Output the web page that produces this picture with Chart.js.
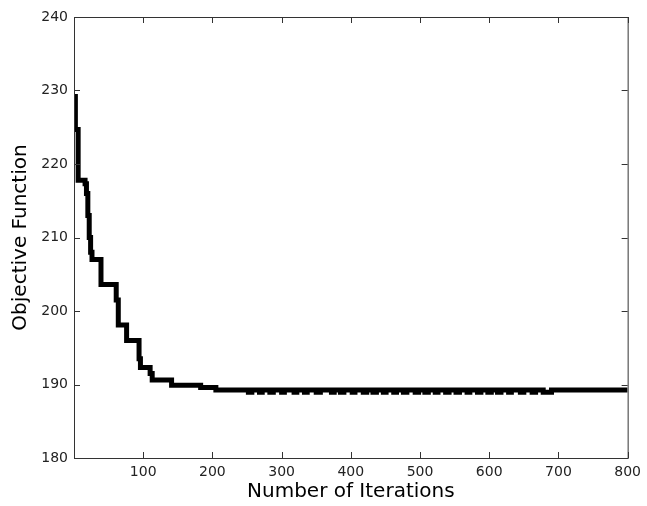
<!DOCTYPE html>
<html>
<head>
<meta charset="utf-8">
<script src="https://cdn.jsdelivr.net/npm/chart.js@4.4.0/dist/chart.umd.min.js"></script>
<style>
  body { margin: 0; background: #fff; }
  canvas { display: block; }
</style>
</head>
<body>
<canvas id="chart" width="647" height="506"></canvas>
<script>
// iteration number where the objective changes value
const iterations = [
  0, 2, 6, 16, 18, 20, 22, 24, 26, 39, 61, 64, 76, 94, 96, 110, 113, 141, 183, 205,
  252, 257, 268, 272, 283, 288, 300, 304, 318, 322, 333, 337, 350, 356, 372, 376,
  385, 390, 402, 406, 418, 423, 432, 437, 447, 451, 462, 466, 476, 481, 493, 498,
  507, 512, 522, 526, 537, 542, 552, 557, 568, 572, 583, 588, 598, 603, 612, 617,
  628, 632, 645, 650, 662, 667, 678, 690, 800
];
const objective = [
  229.2, 224.7, 217.8, 217.3, 216.0, 213.0, 210.0, 208.0, 207.0, 203.6, 201.5, 198.1, 196.0, 193.5, 192.3, 191.5, 190.6, 189.9, 189.6, 189.25,
  188.95, 189.25, 188.95, 189.25, 188.95, 189.25, 188.95, 189.25, 188.95, 189.25, 188.95, 189.25, 188.95, 189.25, 188.95, 189.25,
  188.95, 189.25, 188.95, 189.25, 188.95, 189.25, 188.95, 189.25, 188.95, 189.25, 188.95, 189.25, 188.95, 189.25, 188.95, 189.25,
  188.95, 189.25, 188.95, 189.25, 188.95, 189.25, 188.95, 189.25, 188.95, 189.25, 188.95, 189.25, 188.95, 189.25, 188.95, 189.25,
  188.95, 189.25, 188.95, 189.25, 188.95, 189.25, 188.95, 189.25, 189.25
];

const xTicks = [0, 100, 200, 300, 400, 500, 600, 700, 800];
const yTicks = [180, 190, 200, 210, 220, 230, 240];

const points = iterations.map((x, i) => ({ x: x, y: objective[i] }));

Chart.defaults.font.family = 'DejaVu Sans';
Chart.defaults.color = '#222';

// box around the plot with inward ticks on all four sides
const matlabFrame = {
  id: 'matlabFrame',
  afterDraw(chart) {
    const { ctx, chartArea: a, scales } = chart;
    ctx.save();
    ctx.strokeStyle = '#333';
    ctx.lineWidth = 1;
    ctx.strokeRect(a.left + 0.5, a.top + 0.5, a.right - a.left, a.bottom - a.top);
    ctx.beginPath();
    xTicks.forEach(v => {
      const px = Math.round(scales.x.getPixelForValue(v)) + 0.5;
      ctx.moveTo(px, a.bottom); ctx.lineTo(px, a.bottom - 6);
      ctx.moveTo(px, a.top); ctx.lineTo(px, a.top + 6);
    });
    yTicks.forEach(v => {
      const py = Math.round(scales.y.getPixelForValue(v)) + 0.5;
      ctx.moveTo(a.left, py); ctx.lineTo(a.left + 6, py);
      ctx.moveTo(a.right, py); ctx.lineTo(a.right - 6, py);
    });
    ctx.stroke();
    ctx.restore();
  }
};

new Chart(document.getElementById('chart'), {
  type: 'line',
  data: {
    datasets: [{
      data: points,
      stepped: 'before',
      borderColor: '#000',
      borderWidth: 5,
      pointRadius: 0,
      fill: false
    }]
  },
  options: {
    responsive: false,
    animation: false,
    layout: { padding: { top: 17, right: 14, left: 0, bottom: 0 } },
    plugins: { legend: { display: false }, tooltip: { enabled: false } },
    scales: {
      x: {
        type: 'linear',
        min: 0,
        max: 800,
        afterFit: s => { s.height = 48; },
        afterBuildTicks: s => { s.ticks = xTicks.map(v => ({ value: v })); },
        grid: { drawOnChartArea: false, drawTicks: false },
        border: { display: false },
        ticks: {
          padding: 6,
          maxRotation: 0,
          autoSkip: false,
          font: { size: 14 },
          callback: v => (v === 0 ? '' : v)
        },
        title: {
          display: true,
          text: 'Number of Iterations',
          color: '#000',
          font: { size: 20 },
          padding: { top: 0, bottom: 2 }
        }
      },
      y: {
        min: 180,
        max: 240,
        afterFit: s => { s.width = 74; },
        afterBuildTicks: s => { s.ticks = yTicks.map(v => ({ value: v })); },
        grid: { drawOnChartArea: false, drawTicks: false },
        border: { display: false },
        ticks: { padding: 6, font: { size: 14 } },
        title: {
          display: true,
          text: 'Objective Function',
          color: '#000',
          font: { size: 20 },
          padding: { top: 9, bottom: 0 }
        }
      }
    }
  },
  plugins: [matlabFrame]
});
</script>
</body>
</html>
